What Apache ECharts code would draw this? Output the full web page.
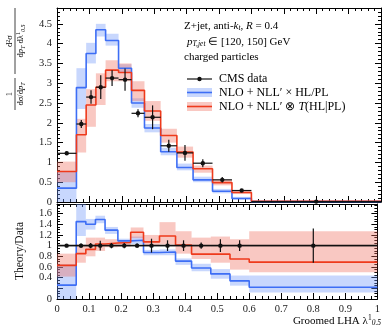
<!DOCTYPE html>
<html>
<head>
<meta charset="utf-8">
<script src="https://cdn.jsdelivr.net/npm/echarts@6/dist/echarts.min.js"></script>
<style>
  html, body { margin: 0; padding: 0; background: #fff; }
  #chart { width: 383px; height: 330px; }
</style>
</head>
<body>
<div id="chart"></div>
<script>
// bin edges of groomed LHA
const edges = [0, 0.06, 0.09, 0.12, 0.15, 0.19, 0.23, 0.27, 0.32, 0.37, 0.42, 0.48, 0.54, 0.6, 1.0]

// top panel: CMS data
const dataVal = [1.23, 1.97, 2.65, 2.9, 3.13, 3.09, 2.24, 2.14, 1.42, 1.24, 0.98, 0.56, 0.29, 0.01]
const dataErr = [0.04, 0.1, 0.17, 0.3, 0.2, 0.28, 0.1, 0.3, 0.15, 0.2, 0.1, 0.07, 0.04, 0.01]
// NLO+NLL' x HL/PL
const blueVal = [0.35, 2.89, 3.75, 4.35, 4.08, 3.38, 2.5, 1.87, 1.27, 0.87, 0.56, 0.27, 0.09, 0.01]
const blueLo = [0.0, 2.35, 3.5, 4.18, 3.95, 3.26, 2.38, 1.76, 1.18, 0.8, 0.5, 0.22, 0.06, 0.0]
const blueHi = [0.77, 3.38, 4.02, 4.5, 4.25, 3.48, 2.62, 1.97, 1.37, 0.97, 0.64, 0.33, 0.13, 0.03]
// NLO+NLL' (x) T(HL|PL)
const redVal = [0.77, 1.7, 2.45, 2.9, 3.33, 3.27, 2.82, 2.3, 1.68, 1.26, 0.84, 0.49, 0.24, 0.02]
const redLo = [0.5, 1.25, 1.9, 2.45, 3.05, 3.05, 2.55, 2.05, 1.5, 1.12, 0.74, 0.42, 0.2, 0.0]
const redHi = [1.02, 2.1, 2.85, 3.25, 3.58, 3.5, 3.05, 2.55, 1.85, 1.4, 0.92, 0.56, 0.28, 0.04]

// bottom panel: theory / data
const ratioErr = [0.03, 0.04, 0.05, 0.09, 0.05, 0.05, 0.04, 0.13, 0.1, 0.1, 0.06, 0.12, 0.1, 0.32]
const blueRatio = [0.26, 1.45, 1.4, 1.49, 1.29, 1.09, 1.1, 0.87, 0.88, 0.71, 0.58, 0.47, 0.34, 0.22]
const blueRLo = [0.0, 1.18, 1.3, 1.42, 1.22, 1.04, 1.03, 0.82, 0.82, 0.64, 0.52, 0.38, 0.25, 0.12]
const blueRHi = [0.65, 1.78, 1.5, 1.56, 1.35, 1.13, 1.17, 0.92, 0.93, 0.76, 0.66, 0.56, 0.44, 0.44]
const redRatio = [0.63, 0.85, 0.93, 1.03, 1.05, 1.06, 1.25, 1.07, 1.18, 1.01, 0.84, 0.84, 0.75, 0.69]
const redRLo = [0.42, 0.68, 0.8, 0.9, 0.97, 0.98, 1.14, 1.0, 1.02, 0.85, 0.75, 0.68, 0.55, 0.5]
const redRHi = [0.85, 1.02, 1.15, 1.15, 1.12, 1.1, 1.34, 1.2, 1.44, 1.27, 1.15, 1.17, 1.12, 1.27]

const BLUE = '#3d6ef5'
const RED = '#ee3a1c'
const BLUE_BAND = 'rgba(110,150,250,0.38)'
const RED_BAND = 'rgba(240,110,95,0.38)'
const FONT = 'Liberation Serif'

const chart = echarts.init(document.getElementById('chart'), null, { renderer: 'canvas' })

function clip(rect, cs) {
  return echarts.graphic.clipRectByRect(rect, { x: cs.x, y: cs.y, width: cs.width, height: cs.height })
}

function band(axis, lo, hi, color) {
  return {
    type: 'custom',
    xAxisIndex: axis, yAxisIndex: axis,
    silent: true,
    z: 1,
    data: lo.map((v, i) => [edges[i], edges[i + 1], v, hi[i]]),
    encode: { x: [0, 1], y: [2, 3] },
    renderItem: (params, api) => {
      const p0 = api.coord([api.value(0), api.value(3)])
      const p1 = api.coord([api.value(1), api.value(2)])
      const r = clip({ x: p0[0], y: p0[1], width: p1[0] - p0[0], height: p1[1] - p0[1] }, params.coordSys)
      return r && { type: 'rect', shape: r, style: { fill: color } }
    }
  }
}

function steps(vals) {
  const pts = []
  vals.forEach((v, i) => {
    pts.push([edges[i], v])
    pts.push([edges[i + 1], v])
  })
  return pts
}

function stepLine(axis, vals, color) {
  return {
    type: 'line',
    xAxisIndex: axis, yAxisIndex: axis,
    data: steps(vals),
    showSymbol: false,
    silent: true,
    z: 3,
    clip: true,
    lineStyle: { color: color, width: 1.6 }
  }
}

function points(axis, vals, errs) {
  return {
    type: 'custom',
    xAxisIndex: axis, yAxisIndex: axis,
    silent: true,
    z: 5,
    data: vals.map((v, i) => [edges[i], edges[i + 1], v, errs[i]]),
    encode: { x: [0, 1], y: 2 },
    renderItem: (params, api) => {
      const x0 = api.value(0), x1 = api.value(1), y = api.value(2), e = api.value(3)
      const xc = (x0 + x1) / 2
      const a = api.coord([x0, y]), b = api.coord([x1, y])
      const c = api.coord([xc, y])
      const lo = api.coord([xc, y - e]), hi = api.coord([xc, y + e])
      const st = { stroke: '#111', lineWidth: 1.2 }
      return {
        type: 'group',
        children: [
          { type: 'line', shape: { x1: a[0], y1: a[1], x2: b[0], y2: b[1] }, style: st },
          { type: 'line', shape: { x1: lo[0], y1: lo[1], x2: hi[0], y2: hi[1] }, style: st },
          { type: 'circle', shape: { cx: c[0], cy: c[1], r: 2.2 }, style: { fill: '#111' } }
        ]
      }
    }
  }
}

const ones = dataVal.map(() => 1)

function xAx(grid, pos, labels) {
  return {
    type: 'value', gridIndex: grid, position: pos, min: 0, max: 1, interval: 0.1,
    axisLine: { show: true, onZero: false, lineStyle: { color: '#000', width: 1 } },
    axisTick: { show: true, inside: true, length: 6, lineStyle: { color: '#000' } },
    minorTick: { show: true, splitNumber: 5, length: 3, lineStyle: { color: '#000' } },
    splitLine: { show: false },
    axisLabel: { show: labels, showMinLabel: true, showMaxLabel: true, hideOverlap: false, margin: 5, color: '#222', fontFamily: FONT, fontSize: 10.5 }
  }
}

function yAx(grid, pos, max, interval, split, labels) {
  return {
    type: 'value', gridIndex: grid, position: pos, min: 0, max: max, interval: interval,
    axisLine: { show: true, onZero: false, lineStyle: { color: '#000', width: 1 } },
    axisTick: { show: true, inside: true, length: 6, lineStyle: { color: '#000' } },
    minorTick: { show: true, splitNumber: split, length: 3, lineStyle: { color: '#000' } },
    splitLine: { show: false },
    axisLabel: { show: labels, showMinLabel: true, showMaxLabel: false, hideOverlap: false, margin: 5, color: '#222', fontFamily: FONT, fontSize: 10.5 }
  }
}

const rich = {
  n: { fontFamily: FONT, fontSize: 11, color: '#111', lineHeight: 13 },
  i: { fontFamily: FONT, fontSize: 11, fontStyle: 'italic', color: '#111', lineHeight: 13 },
  s: { fontFamily: FONT, fontSize: 7.5, fontStyle: 'italic', color: '#111', lineHeight: 13, verticalAlign: 'bottom', padding: [6, 0, 0, 0] },
  u: { fontFamily: FONT, fontSize: 7.5, color: '#111', padding: [0, 0, 5, 0] }
}
const lrich = {
  n: { fontFamily: FONT, fontSize: 12, color: '#111', lineHeight: 13 },
  i: { fontFamily: FONT, fontSize: 12, fontStyle: 'italic', color: '#111', lineHeight: 13 }
}
const frich = {
  n: { fontFamily: FONT, fontSize: 8.5, color: '#111' },
  i: { fontFamily: FONT, fontSize: 8.5, fontStyle: 'italic', color: '#111' },
  s: { fontFamily: FONT, fontSize: 6, fontStyle: 'italic', color: '#111', padding: [5, 0, 0, 0] },
  u: { fontFamily: FONT, fontSize: 6, color: '#111', padding: [0, 0, 4, 0] }
}

function txt(x, y, text, r, align) {
  return { type: 'text', x: x, y: y, style: { text: text, rich: r || rich, align: align || 'left', verticalAlign: 'middle' }, z: 20 }
}

const option = {
  animation: false,
  backgroundColor: '#fff',
  grid: [
    { left: 57, right: 2, top: 8, height: 194 },
    { left: 57, right: 2, top: 204, height: 95 }
  ],
  xAxis: [xAx(0, 'bottom', false), xAx(0, 'top', false), xAx(1, 'bottom', true), xAx(1, 'top', false)],
  yAxis: [yAx(0, 'left', 4.9, 0.5, 5, true), yAx(0, 'right', 4.9, 0.5, 5, false),
    yAx(1, 'left', 1.78, 0.2, 4, true), yAx(1, 'right', 1.78, 0.2, 4, false)],
  series: [
    band(0, blueLo, blueHi, BLUE_BAND),
    band(0, redLo, redHi, RED_BAND),
    stepLine(0, blueVal, BLUE),
    stepLine(0, redVal, RED),
    points(0, dataVal, dataErr),
    band(2, blueRLo, blueRHi, BLUE_BAND),
    band(2, redRLo, redRHi, RED_BAND),
    Object.assign(stepLine(2, blueRatio, BLUE), {
      markLine: {
        silent: true, symbol: 'none', label: { show: false },
        lineStyle: { color: '#111', width: 1.3, type: 'solid' },
        data: [{ yAxis: 1 }]
      }
    }),
    stepLine(2, redRatio, RED),
    points(2, ones, ratioErr)
  ],
  graphic: [
    txt(184, 26, '{n|Z+jet, anti-}{i|k}{s|t}{n|, }{i|R}{n| = 0.4}'),
    txt(187, 42, '{i|p}{s|T,jet}{n| ∈ [120, 150] GeV}'),
    txt(184, 57, '{n|charged particles}'),
    // legend
    { type: 'line', shape: { x1: 187, y1: 79, x2: 212, y2: 79 }, style: { stroke: '#111', lineWidth: 1.2 }, z: 20 },
    { type: 'circle', shape: { cx: 199.5, cy: 79, r: 2.2 }, style: { fill: '#111' }, z: 20 },
    txt(219, 79, '{n|CMS data}', lrich),
    { type: 'rect', shape: { x: 187, y: 88, width: 25, height: 9 }, style: { fill: BLUE_BAND }, z: 20 },
    { type: 'line', shape: { x1: 187, y1: 92.5, x2: 212, y2: 92.5 }, style: { stroke: BLUE, lineWidth: 1.6 }, z: 20 },
    txt(219, 92.5, '{n|NLO + NLL′ × HL/PL}', lrich),
    { type: 'rect', shape: { x: 187, y: 102, width: 25, height: 9 }, style: { fill: RED_BAND }, z: 20 },
    { type: 'line', shape: { x1: 187, y1: 106.5, x2: 212, y2: 106.5 }, style: { stroke: RED, lineWidth: 1.6 }, z: 20 },
    txt(219, 106.5, '{n|NLO + NLL′ ⊗ }{i|T}{n|(HL|PL)}', lrich),
    // x axis title
    txt(381, 321, '{n|Groomed LHA λ}{u|1}{s|0.5}', rich, 'right'),
    // bottom y title
    {
      type: 'text', x: 20, y: 251, rotation: Math.PI / 2,
      style: { text: 'Theory/Data', fontFamily: FONT, fontSize: 11.5, fill: '#111', align: 'center', verticalAlign: 'middle' }, z: 20
    },
    // top y title
    {
      type: 'group', x: 15, y: 59, rotation: Math.PI / 2, z: 20,
      children: [
        { type: 'text', x: -35, y: -5, style: { text: '1', font: '8.5px ' + FONT, fill: '#111', align: 'center', verticalAlign: 'middle' } },
        { type: 'line', shape: { x1: -51, y1: 0, x2: -19, y2: 0 }, style: { stroke: '#111', lineWidth: 0.8 } },
        { type: 'text', x: -35, y: 5.5, style: { text: '{n|dσ/d}{i|p}{s|T}', rich: frich, align: 'center', verticalAlign: 'middle' } },
        { type: 'text', x: 18, y: -5, style: { text: '{n|d}{u|2}{n|σ}', rich: frich, align: 'center', verticalAlign: 'middle' } },
        { type: 'line', shape: { x1: -15, y1: 0, x2: 51, y2: 0 }, style: { stroke: '#111', lineWidth: 0.8 } },
        { type: 'text', x: 18, y: 5.5, style: { text: '{n|d}{i|p}{s|T}{n| dλ}{u|1}{s|0.5}', rich: frich, align: 'center', verticalAlign: 'middle' } }
      ]
    }
  ]
}

chart.setOption(option)
</script>
</body>
</html>
